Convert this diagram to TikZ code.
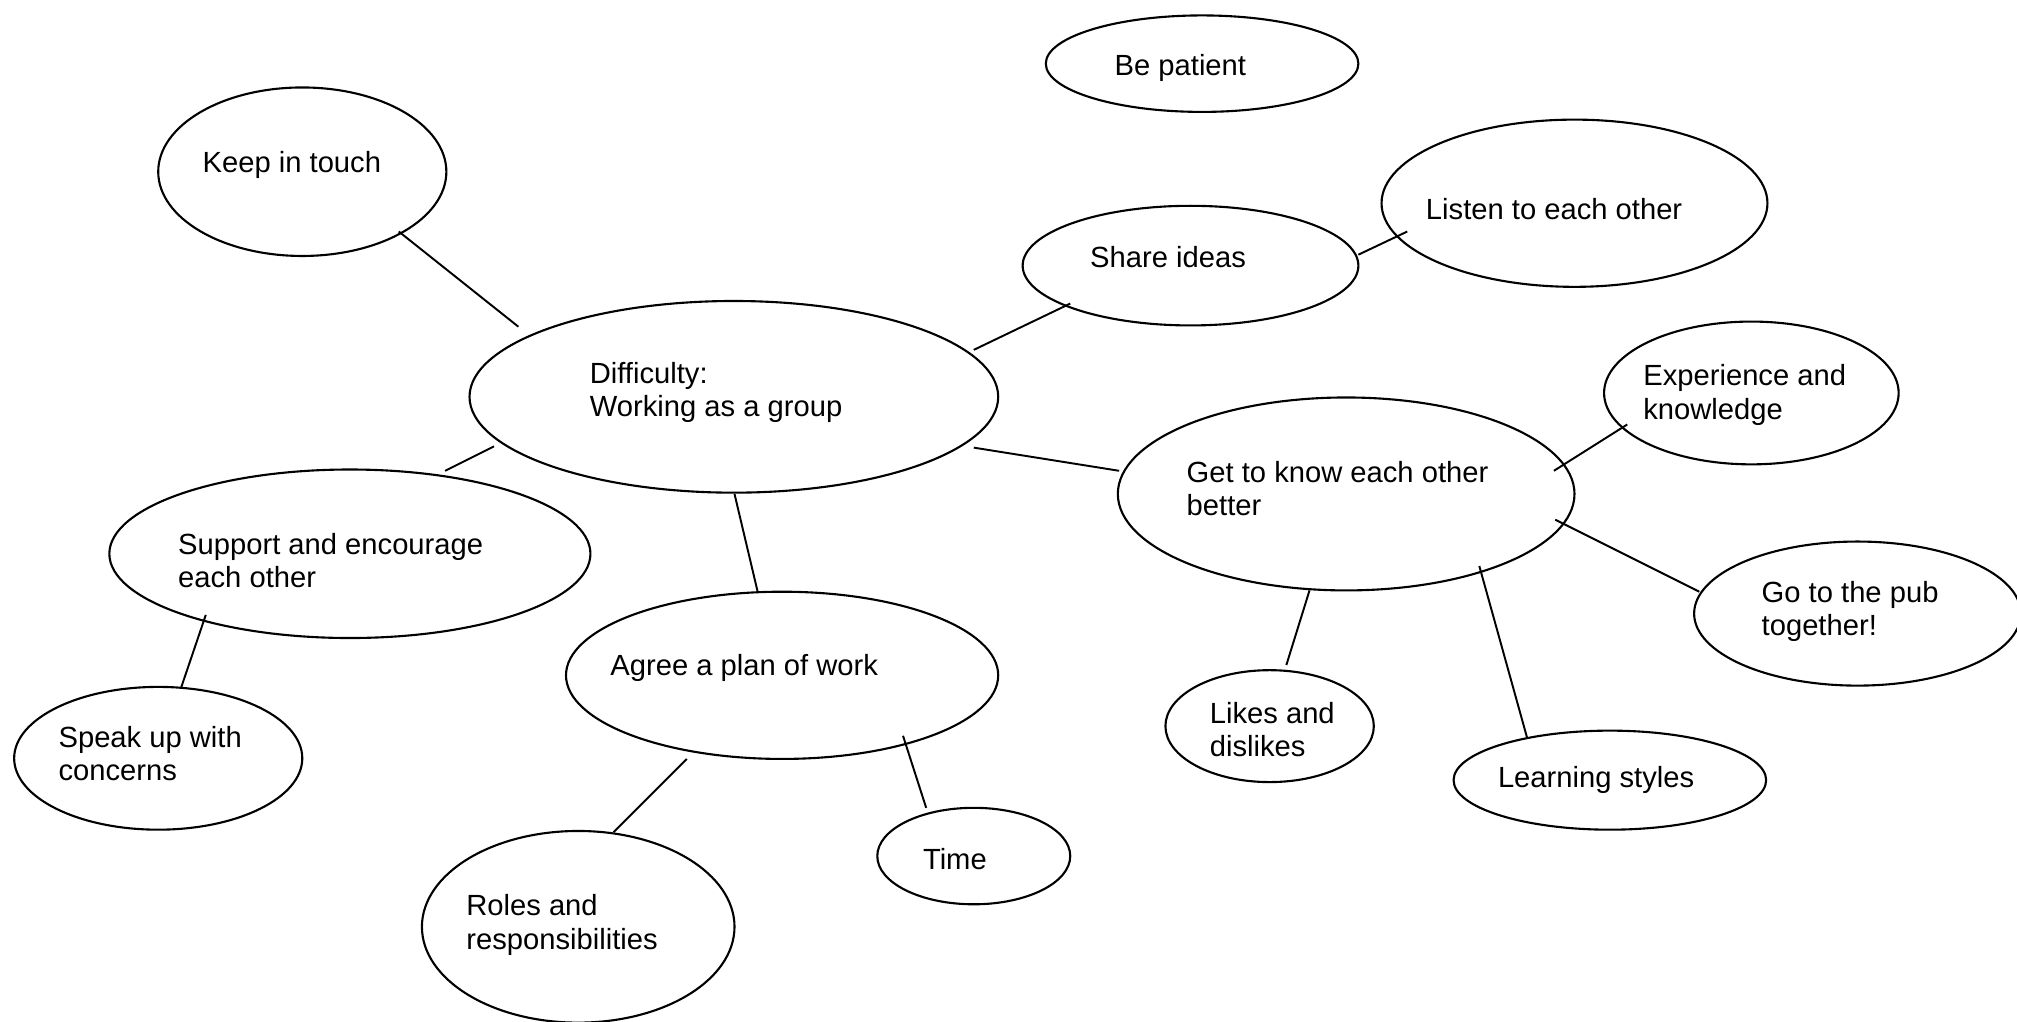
\documentclass[tikz,border=0pt]{standalone}
\usepackage{fontspec}
\setmainfont{Liberation Sans}
\usetikzlibrary{shapes.geometric,calc}
\tikzset{
  bubble/.style={ellipse, draw=black, line width=0.6pt, inner sep=0pt},
  bsize/.style 2 args={minimum width=#1*0.012864cm, minimum height=#2*0.012864cm},
  lbl/.style={anchor=west, inner sep=0pt, align=left, font=\fontsize{8.3}{9.5}\selectfont},
  link/.style={draw=black, line width=0.55pt}
}
\begin{document}
\begin{tikzpicture}[x=0.012864cm, y=-0.012864cm]
\useasboundingbox (0,0) rectangle (1568,794);
% ellipses
\node[bubble, bsize={243}{75}]  (bp)  at (934.5,49.5) {};
\node[bubble, bsize={224}{131}] (kit) at (235,133.5) {};
\node[bubble, bsize={300}{130}] (lis) at (1224,158) {};
\node[bubble, bsize={261}{93}]  (shi) at (925.5,206.5) {};
\node[bubble, bsize={411}{149}] (dif) at (570.5,308.5) {};
\node[bubble, bsize={229}{111}] (exp) at (1361.5,305.5) {};
\node[bubble, bsize={355}{150}] (gtk) at (1046.5,384) {};
\node[bubble, bsize={374}{131}] (sup) at (272,430.5) {};
\node[bubble, bsize={254}{112}] (pub) at (1444,477) {};
\node[bubble, bsize={336}{130}] (agr) at (608,525) {};
\node[bubble, bsize={162}{87}]  (lik) at (987,564.5) {};
\node[bubble, bsize={243}{77}]  (lea) at (1251.5,606.5) {};
\node[bubble, bsize={224}{111}] (spk) at (123,589.5) {};
\node[bubble, bsize={150}{75}]  (tim) at (757,665.5) {};
\node[bubble, bsize={243}{149}] (rol) at (449.5,720.5) {};
% texts
\node[lbl] (bp-t)  at (866,52.5)  {Be patient};
\node[lbl] (kit-t) at (157,128)   {Keep in touch};
\node[lbl] (lis-t) at (1108,162.5){Listen to each other};
\node[lbl] (shi-t) at (847,199.5) {Share ideas};
\node[lbl] (dif-t) at (458,305)   {Difficulty:\\Working as a group};
\node[lbl] (exp-t) at (1277,307)  {Experience and\\knowledge};
\node[lbl] (gtk-t) at (922,380)   {Get to know each other\\better};
\node[lbl] (sup-t) at (138,436)   {Support and encourage\\each other};
\node[lbl] (pub-t) at (1369,475.5){Go to the pub\\together!};
\node[lbl] (agr-t) at (474,519)   {Agree a plan of work};
\node[lbl] (lik-t) at (940,567)   {Likes and\\dislikes};
\node[lbl] (lea-t) at (1164,606)  {Learning styles};
\node[lbl] (spk-t) at (45,586)    {Speak up with\\concerns};
\node[lbl] (tim-t) at (717,667.5) {Time};
\node[lbl] (rol-t) at (362,719)   {Roles and\\responsibilities};
% connectors
\draw[link] ($(kit)+(75,46.5)$) -- ($(dif)+(-167.5,-54.5)$);
\draw[link] ($(dif)+(186.5,-36.5)$) -- ($(shi)+(-93.5,29.5)$);
\draw[link] ($(shi)+(130.5,-8.5)$) -- ($(lis)+(-130,22)$);
\draw[link] ($(dif)+(186.5,39.5)$) -- ($(gtk)+(-176.5,-18)$);
\draw[link] ($(dif)+(-186.5,38.5)$) -- ($(sup)+(74,-64.5)$);
\draw[link] ($(dif)+(0.5,75.5)$) -- ($(agr)+(-19,-65)$);
\draw[link] ($(sup)+(-112,47.5)$) -- ($(spk)+(18,-55.5)$);
\draw[link] ($(agr)+(-74,65)$) -- ($(rol)+(27.5,-73.5)$);
\draw[link] ($(agr)+(94,47)$) -- ($(tim)+(-37,-37.5)$);
\draw[link] ($(gtk)+(-28.5,75)$) -- ($(lik)+(13,-47.5)$);
\draw[link] ($(gtk)+(103.5,56)$) -- ($(lea)+(-64.5,-33.5)$);
\draw[link] ($(gtk)+(161.5,-18)$) -- ($(exp)+(-96.5,24.5)$);
\draw[link] ($(gtk)+(162.5,20)$) -- ($(pub)+(-123,-17)$);
\end{tikzpicture}
\end{document}
